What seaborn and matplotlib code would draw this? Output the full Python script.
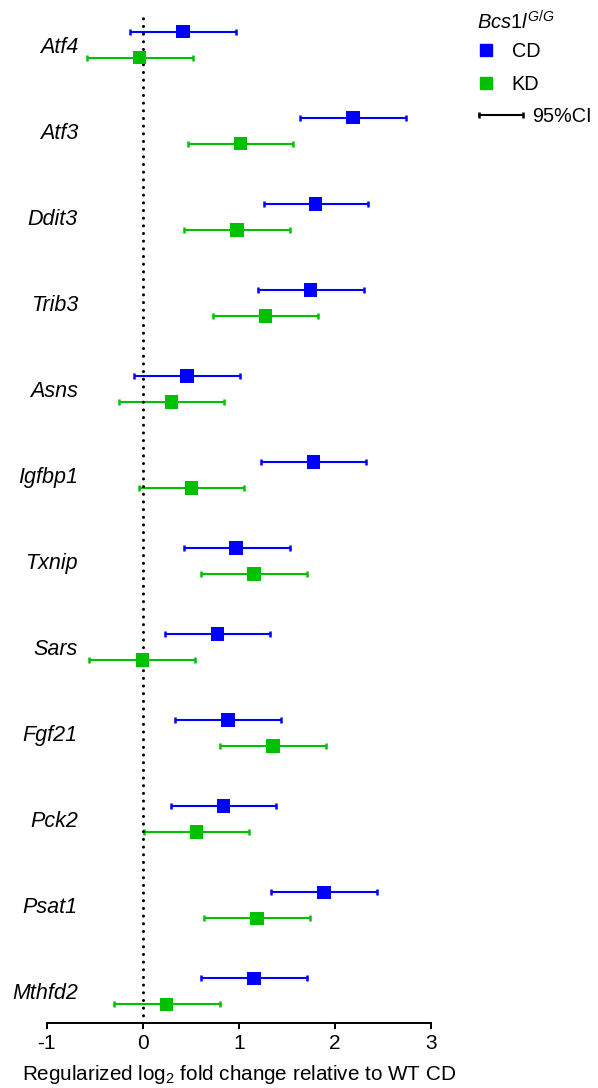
import numpy as np
import pandas as pd
import matplotlib
matplotlib.use("Agg")
import matplotlib.pyplot as plt
import seaborn as sns
from matplotlib.lines import Line2D
from matplotlib.legend_handler import HandlerLine2D

genes = ['Atf4', 'Atf3', 'Ddit3', 'Trib3', 'Asns', 'Igfbp1', 'Txnip', 'Sars',
         'Fgf21', 'Pck2', 'Psat1', 'Mthfd2']
cd_mean = [0.42, 2.19, 1.80, 1.75, 0.46, 1.78, 0.97, 0.78, 0.89, 0.84, 1.89, 1.16]
cd_low = [-0.13, 1.64, 1.26, 1.20, -0.09, 1.23, 0.43, 0.23, 0.34, 0.29, 1.34, 0.61]
cd_high = [0.97, 2.74, 2.35, 2.31, 1.01, 2.33, 1.53, 1.33, 1.44, 1.39, 2.44, 1.71]
kd_mean = [-0.035, 1.02, 0.98, 1.28, 0.30, 0.51, 1.16, 0.00, 1.36, 0.56, 1.19, 0.25]
kd_low = [-0.58, 0.47, 0.43, 0.73, -0.25, -0.04, 0.61, -0.56, 0.81, 0.01, 0.635, -0.30]
kd_high = [0.52, 1.57, 1.53, 1.83, 0.85, 1.06, 1.71, 0.54, 1.91, 1.11, 1.74, 0.80]
groups = ['CD', 'KD']
xticks = [-1, 0, 1, 2, 3]

colors = {'CD': '#0000FF', 'KD': '#00C000'}
offsets = {'CD': -0.151, 'KD': 0.151}

sns.set_theme(style='white')
plt.rcParams['font.family'] = ['Liberation Sans', 'DejaVu Sans']
plt.rcParams['mathtext.fontset'] = 'custom'
plt.rcParams['mathtext.rm'] = 'Liberation Sans'
plt.rcParams['mathtext.it'] = 'Liberation Sans:italic'
plt.rcParams['mathtext.bf'] = 'Liberation Sans:bold'
for k in ['text.color', 'axes.labelcolor', 'xtick.color', 'ytick.color', 'axes.edgecolor']:
    plt.rcParams[k] = 'black'

rows = []
for g, m, lo, hi in [('CD', cd_mean, cd_low, cd_high), ('KD', kd_mean, kd_low, kd_high)]:
    for i, gene in enumerate(genes):
        rows.append({'gene': gene, 'group': g, 'mean': m[i], 'low': lo[i], 'high': hi[i],
                     'ypos': i + offsets[g]})
df = pd.DataFrame(rows)

fig = plt.figure(figsize=(5.98, 10.88), dpi=100)
ax = fig.add_axes([46.7 / 598, 1 - 1022.7 / 1088, 384 / 598, 1009.4 / 1088])

for g in groups:
    d = df[df['group'] == g]
    ax.errorbar(d['mean'], d['ypos'],
                xerr=[d['mean'] - d['low'], d['high'] - d['mean']],
                fmt='none', ecolor=colors[g], elinewidth=1.5, capsize=1.9,
                capthick=1.8, zorder=1.5)

ax.axvline(0, color='black', lw=2.2, ls=(0, (0.01, 2.5)), dash_capstyle='round', zorder=2)

sns.scatterplot(data=df, x='mean', y='ypos', hue='group', hue_order=groups,
                palette=colors, marker='s', s=95, linewidth=0, legend=False,
                ax=ax, zorder=3)

ax.set_xlim(-1, 3)
ax.set_ylim(11.364, -0.364)
ax.set_xticks(xticks)
ax.set_xticklabels([str(t) for t in xticks], fontsize=15)
ax.set_yticks(range(len(genes)))
ax.set_yticklabels(genes, fontsize=15.5, style='italic')
ax.tick_params(axis='y', length=0, pad=-22.5)
ax.tick_params(axis='x', direction='out', length=4.3, width=1.4, color='black',
               bottom=True, pad=4, labelcolor='black')
for s in ['left', 'right', 'top']:
    ax.spines[s].set_visible(False)
ax.spines['bottom'].set_linewidth(1.4)
ax.spines['bottom'].set_color('black')
ax.set_xlabel(r'Regularized log$_2$ fold change relative to WT CD', fontsize=14.9,
              color='black', labelpad=7)
ax.set_ylabel('')
ax.grid(False)

# Legend
fig.text(476.7 / 598, 1 - 30 / 1088, r'$\mathit{Bcs1l}^{\mathit{G/G}}$', fontsize=14.5,
         ha='left', va='baseline')
h_cd = Line2D([], [], ls='none', marker='s', color=colors['CD'], markersize=8.8)
h_kd = Line2D([], [], ls='none', marker='s', color=colors['KD'], markersize=8.0)
leg1 = ax.legend([h_cd, h_kd], groups,
                 loc='center left', bbox_to_anchor=(476.7 / 598, 1 - 68 / 1088),
                 bbox_transform=fig.transFigure, frameon=False, fontsize=14.3,
                 handlelength=0.92, handletextpad=0.85,
                 labelspacing=0.68, borderpad=0, borderaxespad=0)
ax.add_artist(leg1)
h_ci = Line2D([], [], color='black', lw=1.5, marker='|', markersize=4.8, markeredgewidth=1.8)
ax.legend([h_ci], ['95%CI'], handler_map={h_ci: HandlerLine2D(numpoints=2, marker_pad=0)},
          loc='center left', bbox_to_anchor=(479.3 / 598, 1 - 116.7 / 1088),
          bbox_transform=fig.transFigure, frameon=False, fontsize=14.3,
          handlelength=2.2, handletextpad=0.45, borderpad=0, borderaxespad=0)

fig.savefig('out.png', dpi=100)
